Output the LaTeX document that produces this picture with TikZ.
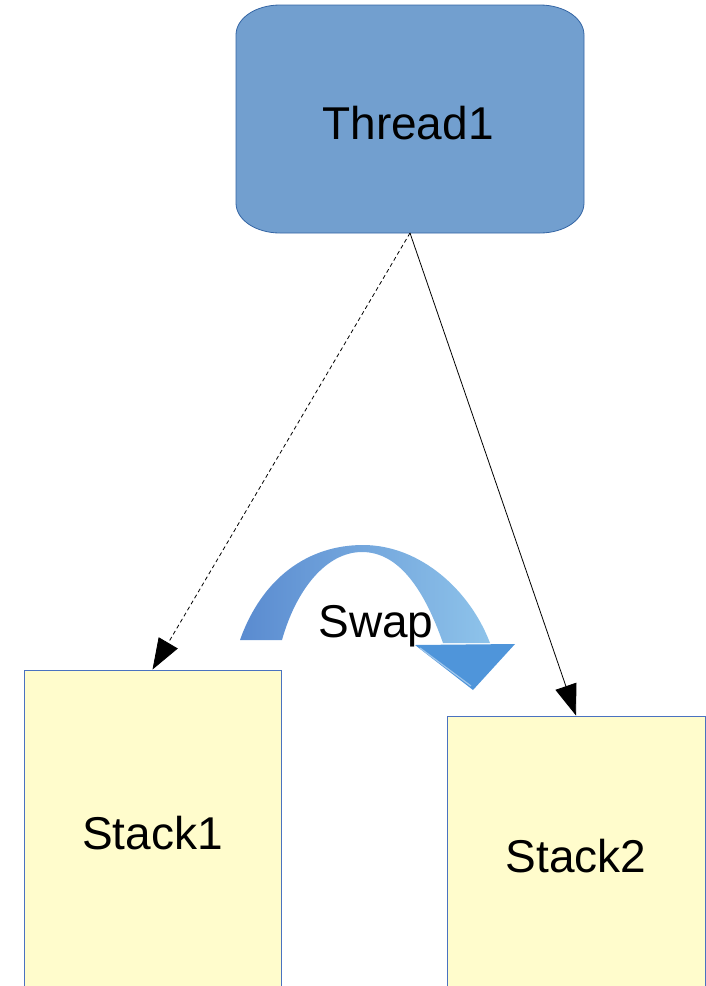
\documentclass[tikz,border=0pt]{standalone}
\usepackage{fontspec}
\setmainfont{Liberation Sans}
\usetikzlibrary{arrows.meta}
\definecolor{threadfill}{HTML}{729FCF}
\definecolor{threadline}{HTML}{3465A4}
\definecolor{stackfill}{HTML}{FFFCCC}
\definecolor{stackline}{HTML}{4A72C0}
\definecolor{swapA}{HTML}{5A8BD0}
\definecolor{swapB}{HTML}{3D5F9E}
\definecolor{swapC}{HTML}{8EC3EA}
\definecolor{swapHead}{HTML}{4F95DA}
\begin{document}
\begin{tikzpicture}[x=1pt,y=-1pt,
  bigtext/.style={font=\fontsize{46}{55}\selectfont},
  stackbox/.style={draw=stackline,fill=stackfill,line width=0.9pt,inner sep=0pt,bigtext},
  conn/.style={line width=0.8pt,-{Triangle[length=31pt,width=22pt]}}]
\useasboundingbox (0,0) rectangle (706,986);
% Thread box (elliptical corners)
\filldraw[fill=threadfill,draw=threadline,line width=0.8pt]
  (280,5) -- (540,5) .. controls (564,5) and (584,18) .. (584,35)
  -- (584,203) .. controls (584,220) and (564,233) .. (540,233)
  -- (280,233) .. controls (256,233) and (236,220) .. (236,203)
  -- (236,35) .. controls (236,18) and (256,5) .. (280,5) -- cycle;
\node[bigtext,minimum width=348pt,minimum height=228pt,inner sep=0pt] (thread) at (408,123) {Thread1};
\coordinate (tsouth) at (410,233);
% Stacks
\node[stackbox,minimum width=257pt,minimum height=326pt] (stack1) at (152.5,833) {Stack1};
\node[stackbox,minimum width=258pt,minimum height=280pt] (stack2) at (576,856) {Stack2};
% Connectors
\draw[conn,dashed,dash pattern=on 4pt off 3pt] (tsouth) -- (stack1.north);
\draw[conn] (tsouth) -- (stack2.north);
% Swap curved arrow
\shade[left color=swapA,middle color=swapB,right color=swapC]
  (240,640) .. controls (262,578) and (308,545) .. (363,545)
  .. controls (420,545) and (470,590) .. (490,643)
  -- (443,643)
  .. controls (425,592) and (400,552) .. (362,552)
  .. controls (326,552) and (296,590) .. (282,640) -- cycle;
\fill[swapHead] (415,645) -- (515,644) -- (473,690) -- cycle;
\draw[white!45!swapHead,line width=1.2pt] (420,648) -- (471,686);
\node[bigtext,anchor=base] (swap) at (376,637) {Swap};
\end{tikzpicture}
\end{document}
